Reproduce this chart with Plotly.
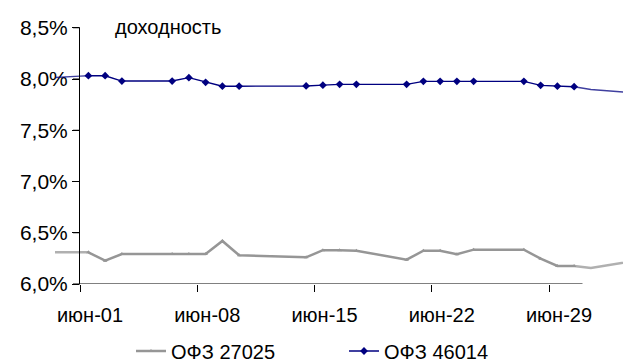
import pandas as pd
import plotly.graph_objects as go

# ---- data ----
dates = ["2011-05-30", "2011-05-31", "2011-06-01", "2011-06-02", "2011-06-03",
         "2011-06-06", "2011-06-07", "2011-06-08", "2011-06-09", "2011-06-10",
         "2011-06-14", "2011-06-15", "2011-06-16", "2011-06-17", "2011-06-20",
         "2011-06-21", "2011-06-22", "2011-06-23", "2011-06-24", "2011-06-27",
         "2011-06-28", "2011-06-29", "2011-06-30", "2011-07-01", "2011-07-04"]
ofz_27025 = [6.31, 6.31, 6.309, 6.227, 6.293, 6.293, 6.293, 6.293, 6.42, 6.28,
             6.26, 6.33, 6.33, 6.325, 6.237, 6.325, 6.325, 6.29, 6.335, 6.335,
             6.247, 6.176, 6.176, 6.156, 6.237]
ofz_46014 = [8.015, 8.02, 8.032, 8.032, 7.98, 7.98, 8.013, 7.968, 7.93, 7.93,
             7.932, 7.94, 7.948, 7.948, 7.948, 7.977, 7.977, 7.977, 7.977, 7.977,
             7.938, 7.93, 7.925, 7.898, 7.86]
tick_dates = ["2011-06-01", "2011-06-08", "2011-06-15", "2011-06-22", "2011-06-29"]
tick_labels = ["июн-01", "июн-08", "июн-15", "июн-22", "июн-29"]
y_ticks = [6.0, 6.5, 7.0, 7.5, 8.0, 8.5]
y_tick_labels = ["6,0%", "6,5%", "7,0%", "7,5%", "8,0%", "8,5%"]
title_text = "доходность"
names = ["ОФЗ 27025", "ОФЗ 46014"]

# ---- layout geometry ----
W, H = 623, 362
axis_start = pd.Timestamp("2011-06-01")
axis_end = pd.Timestamp("2011-07-01")
px_left_axis, px_right_axis = 80, 582.5
px_left_clip, px_right_clip = 55, 623
px_y_bottom, px_y_top = 284, 27.75
ms_per_px = (axis_end - axis_start) / (px_right_axis - px_left_axis)
x_start = axis_start - ms_per_px * (px_left_axis - px_left_clip)
x_end = axis_end + ms_per_px * (px_right_clip - px_right_axis)
y_min, y_max = y_ticks[0], y_ticks[-1]
y_dom = [(H - px_y_bottom) / H, (H - px_y_top) / H]
YTICK_LEN = 7


def y_to_paper(v):
    return y_dom[0] + (v - y_min) / (y_max - y_min) * (y_dom[1] - y_dom[0])


FONT = "Liberation Sans, Arial, sans-serif"
FS = 20

ts = pd.to_datetime(dates) + pd.Timedelta(hours=12)  # centre of day band
inside = [(t >= axis_start) and (t < axis_end) for t in ts]
idx_in = [i for i, v in enumerate(inside) if v]
first_in, last_in = idx_in[0], idx_in[-1]

gray = "#969696"
navy = "#000080"

fig = go.Figure()
series = [(names[0], ofz_27025, gray, 2.5, dict(symbol="triangle-up", size=4)),
          (names[1], ofz_46014, navy, 1.4, dict(symbol="diamond", size=6))]
for name, vals, col, lw, mk in series:
    # line running on before Jun 1 (drawn on both the left strip and main area)
    for xa in ("x2", "x"):
        fig.add_trace(go.Scatter(x=list(ts[:first_in + 1]), y=vals[:first_in + 1],
                                 mode="lines", line=dict(color=col, width=lw),
                                 opacity=0.75, showlegend=False, hoverinfo="skip",
                                 xaxis=xa, yaxis="y"))
    # line running on after Jun 30, no markers
    fig.add_trace(go.Scatter(x=list(ts[last_in:]), y=vals[last_in:],
                             mode="lines", line=dict(color=col, width=lw),
                             opacity=0.75, showlegend=False, hoverinfo="skip",
                             xaxis="x", yaxis="y"))
    fig.add_trace(go.Scatter(x=list(ts[first_in:last_in + 1]),
                             y=vals[first_in:last_in + 1],
                             mode="lines+markers", name=name,
                             line=dict(color=col, width=lw),
                             marker=dict(color=col, **mk),
                             xaxis="x", yaxis="y"))

# axis lines: x baseline across Jun 1 .. Jul 1, y line with its ticks
fig.add_shape(type="line", xref="x", yref="y",
              x0=axis_start, x1=axis_end, y0=y_min, y1=y_min,
              line=dict(color="black", width=1), layer="above")
fig.add_shape(type="line", xref="paper", yref="paper",
              x0=(px_left_axis - 0.5) / W, x1=(px_left_axis - 0.5) / W,
              y0=y_to_paper(y_min), y1=y_to_paper(y_max),
              line=dict(color="black", width=1), layer="above")
for v in y_ticks:
    fig.add_shape(type="line", xref="paper", yref="paper",
                  x0=(px_left_axis - YTICK_LEN) / W, x1=px_left_axis / W,
                  y0=y_to_paper(v), y1=y_to_paper(v),
                  line=dict(color="black", width=1), layer="above")

fig.update_layout(
    width=W, height=H,
    margin=dict(l=0, r=0, t=0, b=0, autoexpand=False),
    paper_bgcolor="white", plot_bgcolor="rgba(0,0,0,0)",
    font=dict(family=FONT, size=FS, color="black"),
    xaxis=dict(domain=[px_left_axis / W, px_right_clip / W],
               range=[axis_start, x_end], type="date",
               anchor="y", showgrid=False, zeroline=False, showline=False,
               ticks="outside", ticklen=7, tickcolor="black",
               tickvals=pd.to_datetime(tick_dates), ticktext=tick_labels,
               ticklabelshift=10, ticklabelstandoff=6,
               tickfont=dict(family=FONT, size=FS)),
    xaxis2=dict(domain=[px_left_clip / W, px_left_axis / W],
                range=[x_start, axis_start], type="date",
                anchor="y", visible=False),
    yaxis=dict(domain=y_dom,
               range=[y_min, y_max], anchor="x",
               showgrid=False, zeroline=False,
               showline=True, linecolor="black", linewidth=1,
               ticks="outside", ticklen=YTICK_LEN, tickcolor="black",
               tickvals=y_ticks, ticktext=y_tick_labels,
               tickfont=dict(family=FONT, size=21)),
    legend=dict(orientation="h", x=131 / W, xanchor="left",
                y=(H - 351) / H, yanchor="middle", bgcolor="rgba(0,0,0,0)",
                font=dict(family=FONT, size=FS),
                entrywidth=168, entrywidthmode="pixels",
                itemwidth=30),
    annotations=[dict(text=title_text, xref="paper", yref="paper",
                      x=113 / W, y=(H - 27) / H, xanchor="left",
                      yanchor="middle", showarrow=False,
                      font=dict(family=FONT, size=FS))],
)

fig.write_html("out.html")
